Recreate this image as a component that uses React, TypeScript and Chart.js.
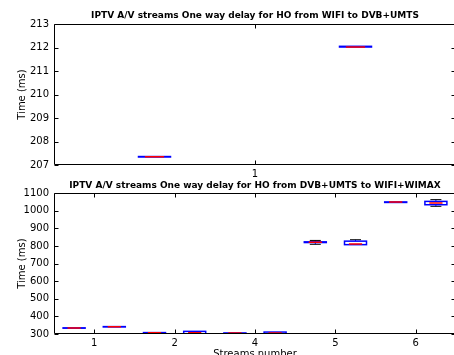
import React, { useEffect, useRef } from 'react';
import { Chart, registerables } from 'chart.js';

Chart.register(...registerables);

const FONT = 'DejaVu Sans';

const topTitle = 'IPTV A/V streams One way delay for HO from WIFI to DVB+UMTS';
const bottomTitle = 'IPTV A/V streams One way delay for HO from DVB+UMTS to WIFI+WIMAX';
const yLabel = 'Time (ms)';
const xLabel = 'Streams number';

// top panel
const topPositions = [0.75, 1.25];
const topWhiskerLow = [207.34, 212.02];
const topQ1 = [207.34, 212.02];
const topMedian = [207.35, 212.02];
const topQ3 = [207.36, 212.05];
const topWhiskerHigh = [207.36, 212.05];
const topTickValues = [1];
const topTickLabels = ['1'];

// bottom panel
const bottomPositions = [0.75, 1.25, 1.75, 2.25, 2.75, 3.25, 3.75, 4.25, 4.75, 5.25];
const bottomWhiskerLow = [333, 340, 305, 300, 303, 300, 810, 808, 1048, 1026];
const bottomQ1 = [333, 340, 305, 301, 303, 301, 820, 808, 1048, 1035];
const bottomMedian = [334, 341, 307, 307, 305, 305, 822, 812, 1050, 1045];
const bottomQ3 = [335, 342, 308, 315, 306, 311, 824, 828, 1051, 1054];
const bottomWhiskerHigh = [335, 342, 308, 315, 306, 311, 832, 836, 1051, 1064];
const bottomTickValues = [1, 2, 3, 4, 5];
const bottomTickLabels = ['1', '2', '4', '5', '6'];

type BoxSet = {
  pos: number[];
  wl: number[];
  q1: number[];
  med: number[];
  q3: number[];
  wh: number[];
};

const boxPlugin = {
  id: 'boxDraw',
  afterDatasetsDraw(chart: any, _args: any, opts: any) {
    const set: BoxSet = opts.set;
    const boxPx: number = opts.boxPx;
    if (!set) return;
    const { ctx, chartArea, scales } = chart;
    const x = scales.x;
    const y = scales.y;
    ctx.save();
    ctx.beginPath();
    ctx.rect(chartArea.left, chartArea.top, chartArea.right - chartArea.left, chartArea.bottom - chartArea.top);
    ctx.clip();
    for (let i = 0; i < set.pos.length; i++) {
      const cx = x.getPixelForValue(set.pos[i]);
      const yWl = y.getPixelForValue(set.wl[i]);
      const yQ1 = y.getPixelForValue(set.q1[i]);
      const yMed = y.getPixelForValue(set.med[i]);
      const yQ3 = y.getPixelForValue(set.q3[i]);
      const yWh = y.getPixelForValue(set.wh[i]);
      // whiskers
      ctx.strokeStyle = '#0000ff';
      ctx.lineWidth = 1;
      ctx.setLineDash([3, 2]);
      if (set.wh[i] > set.q3[i]) {
        ctx.beginPath();
        ctx.moveTo(cx, yQ3);
        ctx.lineTo(cx, yWh);
        ctx.stroke();
      }
      if (set.wl[i] < set.q1[i]) {
        ctx.beginPath();
        ctx.moveTo(cx, yQ1);
        ctx.lineTo(cx, yWl);
        ctx.stroke();
      }
      ctx.setLineDash([]);
      // caps
      ctx.strokeStyle = '#000000';
      const capW = boxPx / 4;
      if (set.wh[i] > set.q3[i]) {
        ctx.beginPath();
        ctx.moveTo(cx - capW, yWh);
        ctx.lineTo(cx + capW, yWh);
        ctx.stroke();
      }
      if (set.wl[i] < set.q1[i]) {
        ctx.beginPath();
        ctx.moveTo(cx - capW, yWl);
        ctx.lineTo(cx + capW, yWl);
        ctx.stroke();
      }
      // box
      ctx.strokeStyle = '#0000ff';
      ctx.lineWidth = 1.5;
      ctx.strokeRect(cx - boxPx / 2, yQ3, boxPx, yQ1 - yQ3);
      // median
      ctx.strokeStyle = '#ff0000';
      ctx.lineWidth = 1.5;
      const mw = boxPx * 0.3;
      ctx.beginPath();
      ctx.moveTo(cx - mw, yMed);
      ctx.lineTo(cx + mw, yMed);
      ctx.stroke();
    }
    ctx.restore();
  },
};

const framePlugin = {
  id: 'frameDraw',
  afterDraw(chart: any) {
    const { ctx, chartArea, scales } = chart;
    const l = Math.round(chartArea.left) + 0.5;
    const r = Math.round(chartArea.right) - 0.5;
    const t = Math.round(chartArea.top) + 0.5;
    const b = Math.round(chartArea.bottom) - 0.5;
    ctx.save();
    ctx.strokeStyle = '#000000';
    ctx.lineWidth = 1;
    const tl = 4;
    ctx.beginPath();
    for (const tk of scales.y.ticks) {
      const py = Math.round(scales.y.getPixelForValue(tk.value)) + 0.5;
      ctx.moveTo(l, py);
      ctx.lineTo(l + tl, py);
      ctx.moveTo(r, py);
      ctx.lineTo(r - tl, py);
    }
    for (const tk of scales.x.ticks) {
      const px = Math.round(scales.x.getPixelForValue(tk.value)) + 0.5;
      ctx.moveTo(px, b);
      ctx.lineTo(px, b - tl);
      ctx.moveTo(px, t);
      ctx.lineTo(px, t + tl);
    }
    ctx.stroke();
    ctx.beginPath();
    ctx.rect(l, t, r - l, b - t);
    ctx.stroke();
    ctx.restore();
  },
};

function makeConfig(
  title: string,
  titlePad: { top: number; bottom: number },
  set: BoxSet,
  boxPx: number,
  xMin: number,
  xMax: number,
  tickValues: number[],
  tickLabels: string[],
  yMin: number,
  yMax: number,
  yStep: number,
  xHeight: number,
  showXTitle: boolean
): any {
  const tickFont = { family: FONT, size: 10 };
  return {
    type: 'scatter',
    data: {
      datasets: [
        {
          data: set.pos.map((p, i) => ({ x: p, y: set.med[i] })),
          pointRadius: 0,
          showLine: false,
        },
      ],
    },
    options: {
      animation: false,
      responsive: false,
      maintainAspectRatio: false,
      events: [],
      layout: { autoPadding: false, padding: { left: 0, right: 14, top: 0, bottom: 0 } },
      plugins: {
        legend: { display: false },
        tooltip: { enabled: false },
        title: {
          display: true,
          text: title,
          fullSize: false,
          color: '#000000',
          font: { family: FONT, size: 9, weight: 'bold' },
          padding: titlePad,
        },
        boxDraw: { set, boxPx },
      },
      scales: {
        x: {
          type: 'linear',
          min: xMin,
          max: xMax,
          afterBuildTicks: (s: any) => {
            s.ticks = tickValues.map((v) => ({ value: v }));
          },
          afterFit: (s: any) => {
            s.height = xHeight;
          },
          ticks: {
            autoSkip: false,
            maxRotation: 0,
            color: '#000000',
            font: tickFont,
            padding: 3,
            callback: (_v: any, i: number) => tickLabels[i],
          },
          grid: { display: false, drawTicks: false, tickLength: 0 },
          border: { display: false },
          title: {
            display: showXTitle,
            text: xLabel,
            color: '#000000',
            font: tickFont,
            padding: { top: 0, bottom: 8 },
          },
        },
        y: {
          type: 'linear',
          min: yMin,
          max: yMax,
          afterFit: (s: any) => {
            s.width = 54;
          },
          ticks: {
            stepSize: yStep,
            color: '#000000',
            font: tickFont,
            padding: 5,
            callback: (v: any) => String(v),
          },
          grid: { display: false, drawTicks: false, tickLength: 0 },
          border: { display: false },
          title: {
            display: true,
            text: yLabel,
            color: '#000000',
            font: tickFont,
            padding: { top: 16, bottom: 0 },
          },
        },
      },
    },
    plugins: [boxPlugin, framePlugin],
  };
}

export default function App() {
  const topRef = useRef<HTMLCanvasElement>(null);
  const bottomRef = useRef<HTMLCanvasElement>(null);

  useEffect(() => {
    const topSet: BoxSet = {
      pos: topPositions,
      wl: topWhiskerLow,
      q1: topQ1,
      med: topMedian,
      q3: topQ3,
      wh: topWhiskerHigh,
    };
    const bottomSet: BoxSet = {
      pos: bottomPositions,
      wl: bottomWhiskerLow,
      q1: bottomQ1,
      med: bottomMedian,
      q3: bottomQ3,
      wh: bottomWhiskerHigh,
    };
    const c1 = new Chart(
      topRef.current as HTMLCanvasElement,
      makeConfig(topTitle, { top: 10.4, bottom: 2.8 }, topSet, 32, 0.5, 1.5, topTickValues, topTickLabels, 207, 213, 1, 13, false)
    );
    const c2 = new Chart(
      bottomRef.current as HTMLCanvasElement,
      makeConfig(bottomTitle, { top: 2.1, bottom: 2.4 }, bottomSet, 22, 0.5, 5.5, bottomTickValues, bottomTickLabels, 300, 1100, 100, 34, true)
    );
    return () => {
      c1.destroy();
      c2.destroy();
    };
  }, []);

  return (
    <div
      style={{
        position: 'absolute',
        left: 0,
        top: 0,
        width: 454,
        height: 355,
        overflow: 'hidden',
        background: '#ffffff',
      }}
    >
      <canvas ref={topRef} width={470} height={178} style={{ position: 'absolute', left: 0, top: 0, display: 'block' }} />
      <canvas ref={bottomRef} width={470} height={190} style={{ position: 'absolute', left: 0, top: 178, display: 'block' }} />
    </div>
  );
}
